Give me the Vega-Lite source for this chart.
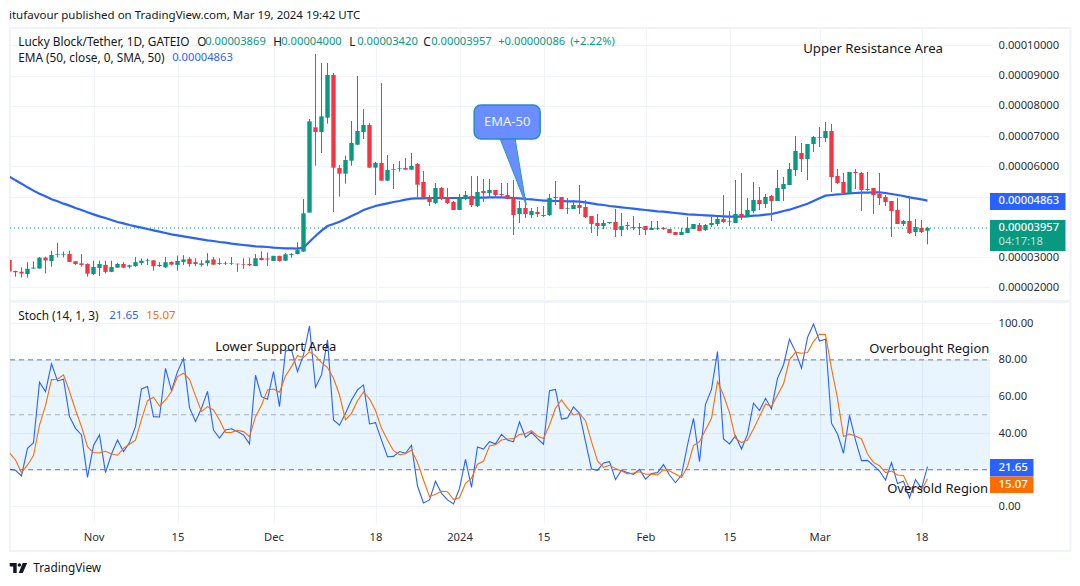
{
  "$schema": "https://vega.github.io/schema/vega-lite/v6.json",
  "background": "white",
  "padding": {"left": 9, "top": 9, "right": 0, "bottom": 0},
  "title": {"text": "itufavour published on TradingView.com, Mar 19, 2024 19:42 UTC", "anchor": "start", "font": "Noto Sans", "fontSize": 11.5, "fontWeight": "normal", "color": "#131722", "offset": 6},
  "config": {"view": {"stroke": null}, "text": {"font": "Noto Sans"}, "axis": {"labelFont": "Noto Sans", "labelFontSize": 11.2, "labelColor": "#2a2e39", "gridColor": "#f0f3fa", "domain": false, "ticks": false}},
  "datasets": {
    "bars": [
      {"date":"2023-10-18","o":2.90e-5,"h":2.90e-5,"l":2.52e-5,"c":2.52e-5,"ema":5.657e-5,"k":20.2,"d":29.3},
      {"date":"2023-10-19","o":2.54e-5,"h":2.55e-5,"l":2.35e-5,"c":2.50e-5,"ema":5.536e-5,"k":19.7,"d":25.3},
      {"date":"2023-10-20","o":2.51e-5,"h":2.66e-5,"l":2.32e-5,"c":2.46e-5,"ema":5.426e-5,"k":16.6,"d":18.4},
      {"date":"2023-10-21","o":2.44e-5,"h":2.83e-5,"l":2.32e-5,"c":2.61e-5,"ema":5.305e-5,"k":31.7,"d":22.6},
      {"date":"2023-10-22","o":2.62e-5,"h":2.85e-5,"l":2.61e-5,"c":2.65e-5,"ema":5.195e-5,"k":34.8,"d":27.7},
      {"date":"2023-10-23","o":2.62e-5,"h":3.00e-5,"l":2.62e-5,"c":2.98e-5,"ema":5.095e-5,"k":67.8,"d":44.4},
      {"date":"2023-10-24","o":2.98e-5,"h":3.01e-5,"l":2.46e-5,"c":2.89e-5,"ema":5.007e-5,"k":62.7,"d":55.0},
      {"date":"2023-10-25","o":2.87e-5,"h":3.21e-5,"l":2.68e-5,"c":3.07e-5,"ema":4.908e-5,"k":77.8,"d":69.2},
      {"date":"2023-10-26","o":3.07e-5,"h":3.47e-5,"l":2.99e-5,"c":3.09e-5,"ema":4.842e-5,"k":68.5,"d":69.4},
      {"date":"2023-10-27","o":3.07e-5,"h":3.18e-5,"l":2.99e-5,"c":3.09e-5,"ema":4.765e-5,"k":69.4,"d":71.8},
      {"date":"2023-10-28","o":3.10e-5,"h":3.21e-5,"l":2.84e-5,"c":2.84e-5,"ema":4.699e-5,"k":49.0,"d":62.7},
      {"date":"2023-10-29","o":2.86e-5,"h":2.86e-5,"l":2.74e-5,"c":2.77e-5,"ema":4.622e-5,"k":42.6,"d":52.6},
      {"date":"2023-10-30","o":2.79e-5,"h":3.10e-5,"l":2.68e-5,"c":2.74e-5,"ema":4.555e-5,"k":39.0,"d":43.5},
      {"date":"2023-10-31","o":2.77e-5,"h":2.79e-5,"l":2.35e-5,"c":2.45e-5,"ema":4.478e-5,"k":15.8,"d":32.6},
      {"date":"2023-11-01","o":2.44e-5,"h":2.88e-5,"l":2.41e-5,"c":2.67e-5,"ema":4.412e-5,"k":33.2,"d":29.3},
      {"date":"2023-11-02","o":2.64e-5,"h":2.88e-5,"l":2.37e-5,"c":2.77e-5,"ema":4.346e-5,"k":39.0,"d":29.3},
      {"date":"2023-11-03","o":2.74e-5,"h":2.88e-5,"l":2.46e-5,"c":2.51e-5,"ema":4.291e-5,"k":18.4,"d":30.1},
      {"date":"2023-11-04","o":2.51e-5,"h":2.88e-5,"l":2.50e-5,"c":2.67e-5,"ema":4.225e-5,"k":28.6,"d":28.6},
      {"date":"2023-11-05","o":2.65e-5,"h":2.81e-5,"l":2.64e-5,"c":2.77e-5,"ema":4.159e-5,"k":36.2,"d":27.9},
      {"date":"2023-11-06","o":2.77e-5,"h":2.83e-5,"l":2.64e-5,"c":2.65e-5,"ema":4.115e-5,"k":29.9,"d":31.7},
      {"date":"2023-11-07","o":2.68e-5,"h":2.75e-5,"l":2.62e-5,"c":2.73e-5,"ema":4.059e-5,"k":34.8,"d":33.9},
      {"date":"2023-11-08","o":2.70e-5,"h":3.00e-5,"l":2.68e-5,"c":2.83e-5,"ema":4.015e-5,"k":43.5,"d":36.1},
      {"date":"2023-11-09","o":2.80e-5,"h":2.95e-5,"l":2.74e-5,"c":2.88e-5,"ema":3.971e-5,"k":64.1,"d":47.5},
      {"date":"2023-11-10","o":2.88e-5,"h":2.95e-5,"l":2.74e-5,"c":2.90e-5,"ema":3.927e-5,"k":65.4,"d":57.7},
      {"date":"2023-11-11","o":2.89e-5,"h":2.90e-5,"l":2.55e-5,"c":2.70e-5,"ema":3.883e-5,"k":49.0,"d":59.6},
      {"date":"2023-11-12","o":2.70e-5,"h":2.83e-5,"l":2.67e-5,"c":2.74e-5,"ema":3.839e-5,"k":48.8,"d":54.8},
      {"date":"2023-11-13","o":2.66e-5,"h":3.00e-5,"l":2.64e-5,"c":2.83e-5,"ema":3.795e-5,"k":75.4,"d":58.1},
      {"date":"2023-11-14","o":2.84e-5,"h":2.85e-5,"l":2.72e-5,"c":2.75e-5,"ema":3.751e-5,"k":63.2,"d":62.7},
      {"date":"2023-11-15","o":2.74e-5,"h":3.05e-5,"l":2.55e-5,"c":2.87e-5,"ema":3.718e-5,"k":73.6,"d":70.9},
      {"date":"2023-11-16","o":2.84e-5,"h":3.06e-5,"l":2.74e-5,"c":2.92e-5,"ema":3.685e-5,"k":80.7,"d":72.7},
      {"date":"2023-11-17","o":2.94e-5,"h":3.00e-5,"l":2.68e-5,"c":2.77e-5,"ema":3.652e-5,"k":53.9,"d":69.4},
      {"date":"2023-11-18","o":2.83e-5,"h":2.96e-5,"l":2.70e-5,"c":2.77e-5,"ema":3.619e-5,"k":46.4,"d":60.3},
      {"date":"2023-11-19","o":2.74e-5,"h":2.90e-5,"l":2.68e-5,"c":2.79e-5,"ema":3.586e-5,"k":53.6,"d":51.7},
      {"date":"2023-11-20","o":2.80e-5,"h":3.13e-5,"l":2.70e-5,"c":2.89e-5,"ema":3.553e-5,"k":62.8,"d":54.5},
      {"date":"2023-11-21","o":2.92e-5,"h":3.00e-5,"l":2.74e-5,"c":2.75e-5,"ema":3.530e-5,"k":41.7,"d":52.6},
      {"date":"2023-11-22","o":2.80e-5,"h":2.96e-5,"l":2.74e-5,"c":2.77e-5,"ema":3.497e-5,"k":37.3,"d":47.2},
      {"date":"2023-11-23","o":2.78e-5,"h":2.85e-5,"l":2.74e-5,"c":2.80e-5,"ema":3.475e-5,"k":41.7,"d":40.3},
      {"date":"2023-11-24","o":2.78e-5,"h":3.00e-5,"l":2.74e-5,"c":2.80e-5,"ema":3.442e-5,"k":42.4,"d":40.4},
      {"date":"2023-11-25","o":2.78e-5,"h":2.78e-5,"l":2.51e-5,"c":2.76e-5,"ema":3.420e-5,"k":40.8,"d":41.5},
      {"date":"2023-11-26","o":2.77e-5,"h":2.96e-5,"l":2.61e-5,"c":2.75e-5,"ema":3.398e-5,"k":39.0,"d":40.8},
      {"date":"2023-11-27","o":2.77e-5,"h":2.98e-5,"l":2.70e-5,"c":2.73e-5,"ema":3.376e-5,"k":34.1,"d":38.1},
      {"date":"2023-11-28","o":2.70e-5,"h":3.10e-5,"l":2.70e-5,"c":2.96e-5,"ema":3.354e-5,"k":71.6,"d":49.0},
      {"date":"2023-11-29","o":2.97e-5,"h":3.19e-5,"l":2.89e-5,"c":2.90e-5,"ema":3.343e-5,"k":59.9,"d":55.2},
      {"date":"2023-11-30","o":2.95e-5,"h":3.15e-5,"l":2.70e-5,"c":2.92e-5,"ema":3.332e-5,"k":58.5,"d":63.6},
      {"date":"2023-12-01","o":2.87e-5,"h":3.04e-5,"l":2.87e-5,"c":3.04e-5,"ema":3.310e-5,"k":73.6,"d":64.1},
      {"date":"2023-12-02","o":3.04e-5,"h":3.04e-5,"l":2.85e-5,"c":2.87e-5,"ema":3.299e-5,"k":54.5,"d":62.3},
      {"date":"2023-12-03","o":2.88e-5,"h":3.13e-5,"l":2.87e-5,"c":3.09e-5,"ema":3.288e-5,"k":84.9,"d":71.2},
      {"date":"2023-12-04","o":3.07e-5,"h":3.13e-5,"l":2.98e-5,"c":3.10e-5,"ema":3.288e-5,"k":85.4,"d":76.3},
      {"date":"2023-12-05","o":3.10e-5,"h":3.49e-5,"l":3.09e-5,"c":3.23e-5,"ema":3.277e-5,"k":73.6,"d":82.3},
      {"date":"2023-12-06","o":3.18e-5,"h":4.92e-5,"l":3.17e-5,"c":4.445e-5,"ema":3.310e-5,"k":82.7,"d":81.2},
      {"date":"2023-12-07","o":4.47e-5,"h":7.564e-5,"l":4.47e-5,"c":7.486e-5,"ema":3.508e-5,"k":98.5,"d":84.5},
      {"date":"2023-12-08","o":7.288e-5,"h":9.713e-5,"l":6.021e-5,"c":7.134e-5,"ema":3.696e-5,"k":65.0,"d":82.2},
      {"date":"2023-12-09","o":7.134e-5,"h":9.415e-5,"l":6.44e-5,"c":7.652e-5,"ema":3.872e-5,"k":71.8,"d":78.5},
      {"date":"2023-12-10","o":7.608e-5,"h":9.415e-5,"l":7.41e-5,"c":9.018e-5,"ema":4.026e-5,"k":90.9,"d":75.8},
      {"date":"2023-12-11","o":9.018e-5,"h":9.084e-5,"l":4.489e-5,"c":5.955e-5,"ema":4.092e-5,"k":47.2,"d":69.9},
      {"date":"2023-12-12","o":5.944e-5,"h":6.043e-5,"l":4.996e-5,"c":5.756e-5,"ema":4.170e-5,"k":44.3,"d":60.8},
      {"date":"2023-12-13","o":5.756e-5,"h":6.352e-5,"l":5.426e-5,"c":6.208e-5,"ema":4.258e-5,"k":50.8,"d":47.2},
      {"date":"2023-12-14","o":6.186e-5,"h":7.497e-5,"l":6.02e-5,"c":6.77e-5,"ema":4.357e-5,"k":58.1,"d":50.8},
      {"date":"2023-12-15","o":6.715e-5,"h":8.985e-5,"l":6.70e-5,"c":7.167e-5,"ema":4.445e-5,"k":63.6,"d":57.7},
      {"date":"2023-12-16","o":7.134e-5,"h":7.894e-5,"l":6.902e-5,"c":7.365e-5,"ema":4.555e-5,"k":66.3,"d":62.5},
      {"date":"2023-12-17","o":7.365e-5,"h":7.431e-5,"l":5.955e-5,"c":5.955e-5,"ema":4.622e-5,"k":45.0,"d":58.7},
      {"date":"2023-12-18","o":5.955e-5,"h":6.142e-5,"l":5.051e-5,"c":6.109e-5,"ema":4.688e-5,"k":45.7,"d":52.3},
      {"date":"2023-12-19","o":6.109e-5,"h":8.754e-5,"l":5.525e-5,"c":5.525e-5,"ema":4.732e-5,"k":36.2,"d":42.6},
      {"date":"2023-12-20","o":5.525e-5,"h":6.374e-5,"l":5.525e-5,"c":5.878e-5,"ema":4.776e-5,"k":27.1,"d":36.2},
      {"date":"2023-12-21","o":5.889e-5,"h":6.076e-5,"l":5.25e-5,"c":5.911e-5,"ema":4.82e-5,"k":27.3,"d":30.4},
      {"date":"2023-12-22","o":5.922e-5,"h":6.175e-5,"l":5.823e-5,"c":5.944e-5,"ema":4.853e-5,"k":29.9,"d":28.2},
      {"date":"2023-12-23","o":5.944e-5,"h":6.274e-5,"l":5.878e-5,"c":5.889e-5,"ema":4.897e-5,"k":29.0,"d":28.8},
      {"date":"2023-12-24","o":5.889e-5,"h":6.44e-5,"l":5.878e-5,"c":6.01e-5,"ema":4.93e-5,"k":33.3,"d":30.8},
      {"date":"2023-12-25","o":6.076e-5,"h":6.109e-5,"l":4.974e-5,"c":5.393e-5,"ema":4.941e-5,"k":11.1,"d":24.0},
      {"date":"2023-12-26","o":5.481e-5,"h":5.844e-5,"l":4.952e-5,"c":4.952e-5,"ema":4.941e-5,"k":1.8,"d":14.4},
      {"date":"2023-12-27","o":4.985e-5,"h":5.051e-5,"l":4.688e-5,"c":4.82e-5,"ema":4.952e-5,"k":3.5,"d":5.3},
      {"date":"2023-12-28","o":4.787e-5,"h":5.448e-5,"l":4.754e-5,"c":5.283e-5,"ema":4.952e-5,"k":13.7,"d":6.6},
      {"date":"2023-12-29","o":5.283e-5,"h":5.316e-5,"l":4.886e-5,"c":4.919e-5,"ema":4.952e-5,"k":7.1,"d":8.2},
      {"date":"2023-12-30","o":4.985e-5,"h":5.283e-5,"l":4.754e-5,"c":4.787e-5,"ema":4.952e-5,"k":3.5,"d":8.0},
      {"date":"2023-12-31","o":4.82e-5,"h":4.853e-5,"l":4.555e-5,"c":4.555e-5,"ema":4.952e-5,"k":1.3,"d":3.8},
      {"date":"2024-01-01","o":4.555e-5,"h":5.084e-5,"l":4.555e-5,"c":4.952e-5,"ema":4.952e-5,"k":9.8,"d":4.7},
      {"date":"2024-01-02","o":4.919e-5,"h":5.183e-5,"l":4.886e-5,"c":5.051e-5,"ema":4.952e-5,"k":25.7,"d":12.6},
      {"date":"2024-01-03","o":5.018e-5,"h":5.679e-5,"l":4.655e-5,"c":4.721e-5,"ema":4.963e-5,"k":10.4,"d":15.3},
      {"date":"2024-01-04","o":4.688e-5,"h":5.679e-5,"l":4.655e-5,"c":5.15e-5,"ema":4.963e-5,"k":32.4,"d":23.0},
      {"date":"2024-01-05","o":5.183e-5,"h":5.58e-5,"l":4.82e-5,"c":5.117e-5,"ema":4.963e-5,"k":31.3,"d":24.6},
      {"date":"2024-01-06","o":5.117e-5,"h":5.58e-5,"l":4.952e-5,"c":5.217e-5,"ema":4.974e-5,"k":35.3,"d":33.0},
      {"date":"2024-01-07","o":5.217e-5,"h":5.217e-5,"l":4.952e-5,"c":5.051e-5,"ema":4.974e-5,"k":34.2,"d":33.7},
      {"date":"2024-01-08","o":5.084e-5,"h":5.448e-5,"l":4.952e-5,"c":5.051e-5,"ema":4.974e-5,"k":39.3,"d":36.2},
      {"date":"2024-01-09","o":5.051e-5,"h":5.448e-5,"l":4.919e-5,"c":4.919e-5,"ema":4.963e-5,"k":36.2,"d":36.8},
      {"date":"2024-01-10","o":4.952e-5,"h":5.547e-5,"l":3.729e-5,"c":4.39e-5,"ema":4.952e-5,"k":35.2,"d":37.0},
      {"date":"2024-01-11","o":4.423e-5,"h":4.853e-5,"l":4.126e-5,"c":4.622e-5,"ema":4.941e-5,"k":46.1,"d":39.2},
      {"date":"2024-01-12","o":4.622e-5,"h":4.985e-5,"l":4.291e-5,"c":4.423e-5,"ema":4.919e-5,"k":37.7,"d":39.7},
      {"date":"2024-01-13","o":4.39e-5,"h":4.622e-5,"l":4.291e-5,"c":4.522e-5,"ema":4.908e-5,"k":40.4,"d":41.3},
      {"date":"2024-01-14","o":4.489e-5,"h":4.655e-5,"l":4.324e-5,"c":4.423e-5,"ema":4.886e-5,"k":37.0,"d":38.4},
      {"date":"2024-01-15","o":4.39e-5,"h":4.688e-5,"l":4.324e-5,"c":4.357e-5,"ema":4.864e-5,"k":33.9,"d":37.0},
      {"date":"2024-01-16","o":4.39e-5,"h":5.084e-5,"l":4.357e-5,"c":4.952e-5,"ema":4.864e-5,"k":63.2,"d":44.4},
      {"date":"2024-01-17","o":4.952e-5,"h":5.514e-5,"l":4.721e-5,"c":4.985e-5,"ema":4.853e-5,"k":63.9,"d":53.6},
      {"date":"2024-01-18","o":4.985e-5,"h":4.985e-5,"l":4.589e-5,"c":4.589e-5,"ema":4.853e-5,"k":47.7,"d":58.1},
      {"date":"2024-01-19","o":4.6e-5,"h":4.952e-5,"l":4.423e-5,"c":4.622e-5,"ema":4.842e-5,"k":48.3,"d":53.6},
      {"date":"2024-01-20","o":4.589e-5,"h":4.886e-5,"l":4.589e-5,"c":4.721e-5,"ema":4.842e-5,"k":54.3,"d":49.9},
      {"date":"2024-01-21","o":4.721e-5,"h":5.382e-5,"l":4.423e-5,"c":4.622e-5,"ema":4.831e-5,"k":50.8,"d":50.8},
      {"date":"2024-01-22","o":4.655e-5,"h":4.886e-5,"l":4.291e-5,"c":4.324e-5,"ema":4.809e-5,"k":35.3,"d":46.8},
      {"date":"2024-01-23","o":4.357e-5,"h":4.357e-5,"l":3.795e-5,"c":4.093e-5,"ema":4.776e-5,"k":20.4,"d":35.3},
      {"date":"2024-01-24","o":4.126e-5,"h":4.423e-5,"l":3.696e-5,"c":4.027e-5,"ema":4.743e-5,"k":19.7,"d":24.8},
      {"date":"2024-01-25","o":4.027e-5,"h":4.225e-5,"l":3.927e-5,"c":4.126e-5,"ema":4.721e-5,"k":23.7,"d":21.3},
      {"date":"2024-01-26","o":4.126e-5,"h":4.159e-5,"l":4.093e-5,"c":4.159e-5,"ema":4.688e-5,"k":24.4,"d":22.4},
      {"date":"2024-01-27","o":4.159e-5,"h":4.589e-5,"l":3.663e-5,"c":3.894e-5,"ema":4.666e-5,"k":14.6,"d":20.6},
      {"date":"2024-01-28","o":3.894e-5,"h":4.456e-5,"l":3.696e-5,"c":4.027e-5,"ema":4.644e-5,"k":19.7,"d":19.3},
      {"date":"2024-01-29","o":4.06e-5,"h":4.159e-5,"l":3.894e-5,"c":4.027e-5,"ema":4.622e-5,"k":18.4,"d":17.7},
      {"date":"2024-01-30","o":3.96e-5,"h":4.357e-5,"l":3.894e-5,"c":3.993e-5,"ema":4.6e-5,"k":17.5,"d":18.2},
      {"date":"2024-01-31","o":3.96e-5,"h":4.126e-5,"l":3.729e-5,"c":3.993e-5,"ema":4.578e-5,"k":20.2,"d":18.9},
      {"date":"2024-02-01","o":4.027e-5,"h":4.027e-5,"l":3.729e-5,"c":3.894e-5,"ema":4.555e-5,"k":14.9,"d":17.5},
      {"date":"2024-02-02","o":3.894e-5,"h":4.192e-5,"l":3.894e-5,"c":3.96e-5,"ema":4.533e-5,"k":17.9,"d":17.7},
      {"date":"2024-02-03","o":3.938e-5,"h":4.192e-5,"l":3.894e-5,"c":3.96e-5,"ema":4.511e-5,"k":18.4,"d":17.1},
      {"date":"2024-02-04","o":3.96e-5,"h":3.993e-5,"l":3.894e-5,"c":3.927e-5,"ema":4.5e-5,"k":22.8,"d":19.9},
      {"date":"2024-02-05","o":3.927e-5,"h":3.927e-5,"l":3.795e-5,"c":3.795e-5,"ema":4.478e-5,"k":17.1,"d":19.3},
      {"date":"2024-02-06","o":3.828e-5,"h":3.828e-5,"l":3.729e-5,"c":3.729e-5,"ema":4.456e-5,"k":12.9,"d":17.7},
      {"date":"2024-02-07","o":3.729e-5,"h":3.96e-5,"l":3.729e-5,"c":3.828e-5,"ema":4.434e-5,"k":17.1,"d":15.7},
      {"date":"2024-02-08","o":3.795e-5,"h":4.324e-5,"l":3.795e-5,"c":3.96e-5,"ema":4.412e-5,"k":33.5,"d":21.7},
      {"date":"2024-02-09","o":3.927e-5,"h":4.093e-5,"l":3.927e-5,"c":4.093e-5,"ema":4.401e-5,"k":48.1,"d":33.2},
      {"date":"2024-02-10","o":4.06e-5,"h":4.126e-5,"l":3.861e-5,"c":3.861e-5,"ema":4.39e-5,"k":24.4,"d":35.3},
      {"date":"2024-02-11","o":3.894e-5,"h":4.093e-5,"l":3.861e-5,"c":4.06e-5,"ema":4.379e-5,"k":55.7,"d":41.7},
      {"date":"2024-02-12","o":4.06e-5,"h":4.324e-5,"l":3.993e-5,"c":4.126e-5,"ema":4.368e-5,"k":63.9,"d":48.1},
      {"date":"2024-02-13","o":4.093e-5,"h":4.324e-5,"l":4.027e-5,"c":4.258e-5,"ema":4.357e-5,"k":84.5,"d":68.1},
      {"date":"2024-02-14","o":4.258e-5,"h":5.051e-5,"l":4.126e-5,"c":4.159e-5,"ema":4.346e-5,"k":36.8,"d":60.8},
      {"date":"2024-02-15","o":4.192e-5,"h":4.522e-5,"l":4.027e-5,"c":4.17e-5,"ema":4.335e-5,"k":34.1,"d":51.2},
      {"date":"2024-02-16","o":4.126e-5,"h":5.547e-5,"l":4.126e-5,"c":4.423e-5,"ema":4.335e-5,"k":38.6,"d":37.2},
      {"date":"2024-02-17","o":4.423e-5,"h":5.778e-5,"l":4.225e-5,"c":4.324e-5,"ema":4.335e-5,"k":31.3,"d":34.8},
      {"date":"2024-02-18","o":4.324e-5,"h":4.952e-5,"l":4.324e-5,"c":4.555e-5,"ema":4.346e-5,"k":39.3,"d":36.2},
      {"date":"2024-02-19","o":4.522e-5,"h":5.481e-5,"l":4.456e-5,"c":4.886e-5,"ema":4.368e-5,"k":56.3,"d":42.3},
      {"date":"2024-02-20","o":4.886e-5,"h":5.316e-5,"l":4.555e-5,"c":4.754e-5,"ema":4.379e-5,"k":52.3,"d":49.0},
      {"date":"2024-02-21","o":4.754e-5,"h":5.084e-5,"l":4.621e-5,"c":4.985e-5,"ema":4.401e-5,"k":59.0,"d":55.9},
      {"date":"2024-02-22","o":5.018e-5,"h":5.051e-5,"l":4.192e-5,"c":4.853e-5,"ema":4.423e-5,"k":53.2,"d":54.5},
      {"date":"2024-02-23","o":4.853e-5,"h":5.878e-5,"l":4.853e-5,"c":5.283e-5,"ema":4.467e-5,"k":69.9,"d":60.8},
      {"date":"2024-02-24","o":5.25e-5,"h":5.646e-5,"l":4.853e-5,"c":5.415e-5,"ema":4.522e-5,"k":77.2,"d":66.8},
      {"date":"2024-02-25","o":5.382e-5,"h":6.109e-5,"l":5.382e-5,"c":5.911e-5,"ema":4.566e-5,"k":91.3,"d":80.0},
      {"date":"2024-02-26","o":5.878e-5,"h":7.002e-5,"l":5.679e-5,"c":6.506e-5,"ema":4.632e-5,"k":84.5,"d":84.2},
      {"date":"2024-02-27","o":6.44e-5,"h":6.77e-5,"l":5.811e-5,"c":6.241e-5,"ema":4.698e-5,"k":75.4,"d":83.6},
      {"date":"2024-02-28","o":6.241e-5,"h":6.737e-5,"l":5.547e-5,"c":6.737e-5,"ema":4.764e-5,"k":92.2,"d":84.0},
      {"date":"2024-02-29","o":6.737e-5,"h":7.002e-5,"l":6.473e-5,"c":6.969e-5,"ema":4.853e-5,"k":99.6,"d":90.0},
      {"date":"2024-03-01","o":6.946e-5,"h":7.299e-5,"l":6.638e-5,"c":6.969e-5,"ema":4.941e-5,"k":90.3,"d":94.0},
      {"date":"2024-03-02","o":6.936e-5,"h":7.464e-5,"l":6.803e-5,"c":7.167e-5,"ema":5.029e-5,"k":91.3,"d":93.8},
      {"date":"2024-03-03","o":7.167e-5,"h":7.398e-5,"l":5.15e-5,"c":5.646e-5,"ema":5.051e-5,"k":45.4,"d":75.4},
      {"date":"2024-03-04","o":5.679e-5,"h":5.911e-5,"l":5.415e-5,"c":5.448e-5,"ema":5.073e-5,"k":39.5,"d":59.0},
      {"date":"2024-03-05","o":5.481e-5,"h":5.778e-5,"l":5.051e-5,"c":5.117e-5,"ema":5.084e-5,"k":29.0,"d":38.1},
      {"date":"2024-03-06","o":5.117e-5,"h":5.811e-5,"l":5.117e-5,"c":5.811e-5,"ema":5.106e-5,"k":49.7,"d":39.5},
      {"date":"2024-03-07","o":5.811e-5,"h":5.911e-5,"l":5.25e-5,"c":5.778e-5,"ema":5.117e-5,"k":36.2,"d":38.4},
      {"date":"2024-03-08","o":5.778e-5,"h":5.811e-5,"l":4.522e-5,"c":5.217e-5,"ema":5.128e-5,"k":25.0,"d":36.8},
      {"date":"2024-03-09","o":5.217e-5,"h":5.811e-5,"l":5.184e-5,"c":5.25e-5,"ema":5.128e-5,"k":25.1,"d":28.6},
      {"date":"2024-03-10","o":5.283e-5,"h":5.283e-5,"l":4.423e-5,"c":5.051e-5,"ema":5.139e-5,"k":22.2,"d":24.0},
      {"date":"2024-03-11","o":5.084e-5,"h":5.778e-5,"l":4.721e-5,"c":4.952e-5,"ema":5.139e-5,"k":19.3,"d":22.2},
      {"date":"2024-03-12","o":4.985e-5,"h":5.051e-5,"l":4.688e-5,"c":4.82e-5,"ema":5.117e-5,"k":14.4,"d":18.4},
      {"date":"2024-03-13","o":4.853e-5,"h":4.853e-5,"l":3.663e-5,"c":4.522e-5,"ema":5.084e-5,"k":23.9,"d":19.3},
      {"date":"2024-03-14","o":4.555e-5,"h":4.952e-5,"l":4.093e-5,"c":4.093e-5,"ema":5.051e-5,"k":12.4,"d":17.1},
      {"date":"2024-03-15","o":4.093e-5,"h":4.225e-5,"l":4.027e-5,"c":4.192e-5,"ema":5.018e-5,"k":13.7,"d":16.8},
      {"date":"2024-03-16","o":4.192e-5,"h":5.018e-5,"l":3.762e-5,"c":3.795e-5,"ema":4.974e-5,"k":4.7,"d":9.8},
      {"date":"2024-03-17","o":3.828e-5,"h":4.258e-5,"l":3.696e-5,"c":3.993e-5,"ema":4.941e-5,"k":14.6,"d":10.7},
      {"date":"2024-03-18","o":3.96e-5,"h":4.225e-5,"l":3.795e-5,"c":3.828e-5,"ema":4.908e-5,"k":9.8,"d":8.9},
      {"date":"2024-03-19","o":3.869e-5,"h":4.0e-5,"l":3.42e-5,"c":3.957e-5,"ema":4.863e-5,"k":21.65,"d":15.07}
    ]
  },
  "vconcat": [
    {
      "width": 980,
      "height": 273,
      "encoding": {
        "x": {
          "field": "date",
          "type": "temporal",
          "title": null,
          "scale": {"type": "utc", "domain": ["2023-10-18T02:00:00Z", "2024-03-29T10:00:00Z"], "nice": false, "padding": 0},
          "axis": {
            "labels": false,
            "title": null,
            "values": [{"year":2023,"month":"nov","date":1,"utc":true},{"year":2023,"month":"nov","date":15,"utc":true},{"year":2023,"month":"dec","date":1,"utc":true},{"year":2023,"month":"dec","date":18,"utc":true},{"year":2024,"month":"jan","date":1,"utc":true},{"year":2024,"month":"jan","date":15,"utc":true},{"year":2024,"month":"feb","date":1,"utc":true},{"year":2024,"month":"feb","date":15,"utc":true},{"year":2024,"month":"mar","date":1,"utc":true},{"year":2024,"month":"mar","date":18,"utc":true}]
          }
        },
        "y": {
          "field": "price",
          "type": "quantitative",
          "title": null,
          "scale": {"domain": [1.547e-5, 1.0572e-4], "nice": false, "zero": false},
          "axis": {"title": null, "values": [2e-5,3e-5,4e-5,5e-5,6e-5,7e-5,8e-5,9e-5,1e-4], "orient": "right", "format": ".8f", "labelPadding": 8, "labelExpr": "abs(datum.value - 5e-5) < 1e-7 || abs(datum.value - 4e-5) < 1e-7 ? '' : datum.label"}
        }
      },
      "layer": [
        {
          "data": {"values": [{"date": "2023-10-18T02:00:00Z", "date2": "2024-04-11T20:00:00Z", "price": 1.0572e-4, "bottom": 1.547e-5}]},
          "mark": {"type": "rect", "fill": null, "stroke": "#f0f3fa", "strokeWidth": 2},
          "encoding": {"x2": {"field": "date2"}, "y2": {"field": "bottom"}}
        },
        {
          "data": {"name": "bars"},
          "mark": {"type": "line", "color": "#2962ff", "strokeWidth": 2.2, "clip": true},
          "encoding": {"y": {"field": "ema", "type": "quantitative", "title": null}}
        },
        {
          "data": {"values": [{"price": 3.957e-5}]},
          "mark": {"type": "rule", "color": "#089981", "strokeDash": [1, 3], "strokeWidth": 1},
          "encoding": {"x": {"value": 0}, "x2": {"value": 980}}
        },
        {
          "data": {"name": "bars"},
          "mark": {"type": "rule", "strokeWidth": 1, "clip": true},
          "encoding": {
            "y": {"field": "l", "type": "quantitative", "title": null},
            "y2": {"field": "h"},
            "color": {"condition": {"test": "datum.c >= datum.o", "value": "#089981"}, "value": "#f23645"}
          }
        },
        {
          "data": {"name": "bars"},
          "mark": {"type": "bar", "size": 4.4, "clip": true},
          "encoding": {
            "y": {"field": "o", "type": "quantitative", "title": null},
            "y2": {"field": "c"},
            "color": {"condition": {"test": "datum.c >= datum.o", "value": "#089981"}, "value": "#f23645"}
          }
        },
        {
          "data": {"values": [{"date": "2024-01-07T18:40:00Z", "price": 6.902e-5, "lower": 6.902e-5}, {"date": "2024-01-10T06:40:00Z", "price": 6.902e-5, "lower": 5.646e-5}, {"date": "2024-01-12T02:40:00Z", "price": 4.721e-5, "lower": 4.721e-5}]},
          "mark": {"type": "area", "color": "#6a8dff", "stroke": "#2a9bb5", "strokeWidth": 1},
          "encoding": {"y2": {"field": "lower"}}
        },
        {
          "data": {"values": [{"date": "2024-01-03T10:40:00Z", "date2": "2024-01-14T10:40:00Z", "price": 8.026e-5, "bottom": 6.902e-5}]},
          "mark": {"type": "rect", "color": "#6a8dff", "stroke": "#2a8cc0", "strokeWidth": 1.5, "cornerRadius": 7},
          "encoding": {"x2": {"field": "date2"}, "y2": {"field": "bottom"}}
        },
        {
          "data": {"values": [{"date": "2024-01-08T22:40:00Z", "price": 7.46e-5, "note": "EMA-50"}]},
          "mark": {"type": "text", "color": "#f0f3ff", "fontSize": 13},
          "encoding": {"text": {"field": "note"}}
        },
        {
          "data": {"values": [
            {"date": "2023-10-19T10:48:00Z", "price": 10.109e-5, "note": "Lucky Block/Tether, 1D, GATEIO"},
            {"date": "2023-11-18T06:43:00Z", "price": 10.109e-5, "note": "O"},
            {"date": "2023-11-30T22:48:00Z", "price": 10.109e-5, "note": "H"},
            {"date": "2023-12-13T14:53:00Z", "price": 10.109e-5, "note": "L"},
            {"date": "2023-12-25T22:48:00Z", "price": 10.109e-5, "note": "C"},
            {"date": "2023-10-19T10:48:00Z", "price": 9.58e-5, "note": "EMA (50, close, 0, SMA, 50)"}
          ]},
          "mark": {"type": "text", "align": "left", "color": "#131722", "fontSize": 11.8},
          "encoding": {"text": {"field": "note"}}
        },
        {
          "data": {"values": [
            {"date": "2023-11-19T14:53:00Z", "price": 10.109e-5, "note": "0.00003869"},
            {"date": "2023-12-02T06:43:00Z", "price": 10.109e-5, "note": "0.00004000"},
            {"date": "2023-12-14T22:48:00Z", "price": 10.109e-5, "note": "0.00003420"},
            {"date": "2023-12-27T06:43:00Z", "price": 10.109e-5, "note": "0.00003957"},
            {"date": "2024-01-07T10:48:00Z", "price": 10.109e-5, "note": "+0.00000086"},
            {"date": "2024-01-19T10:48:00Z", "price": 10.109e-5, "note": "(+2.22%)"}
          ]},
          "mark": {"type": "text", "align": "left", "color": "#089981", "fontSize": 11.2},
          "encoding": {"text": {"field": "note"}}
        },
        {
          "data": {"values": [{"date": "2023-11-14T02:53:00Z", "price": 9.58e-5, "note": "0.00004863"}]},
          "mark": {"type": "text", "align": "left", "color": "#2962ff", "fontSize": 11.2},
          "encoding": {"text": {"field": "note"}}
        },
        {
          "data": {"values": [{"date": "2024-02-27T06:43:00Z", "price": 9.878e-5, "note": "Upper Resistance Area"}]},
          "mark": {"type": "text", "align": "left", "color": "#131722", "fontSize": 13.2},
          "encoding": {"text": {"field": "note"}}
        },
        {
          "data": {"values": [{"date": "2024-03-29T10:00:00Z", "date2": "2024-04-11T00:00:00Z", "price": 5.117e-5, "bottom": 4.555e-5}]},
          "mark": {"type": "rect", "color": "#2962ff"},
          "encoding": {"x2": {"field": "date2"}, "y2": {"field": "bottom"}}
        },
        {
          "data": {"values": [{"date": "2024-03-29T10:00:00Z", "date2": "2024-04-11T00:00:00Z", "price": 4.225e-5, "bottom": 3.2e-5}]},
          "mark": {"type": "rect", "color": "#089981"},
          "encoding": {"x2": {"field": "date2"}, "y2": {"field": "bottom"}}
        },
        {
          "data": {"values": [
            {"date": "2024-03-30T20:00:00Z", "price": 4.853e-5, "note": "0.00004863"},
            {"date": "2024-03-30T20:00:00Z", "price": 3.96e-5, "note": "0.00003957"}
          ]},
          "mark": {"type": "text", "align": "left", "color": "white", "fontSize": 11.2, "fontWeight": 500},
          "encoding": {"text": {"field": "note"}}
        },
        {
          "data": {"values": [{"date": "2024-03-30T20:00:00Z", "price": 3.497e-5, "note": "04:17:18"}]},
          "mark": {"type": "text", "align": "left", "color": "#bfe3da", "fontSize": 11.2},
          "encoding": {"text": {"field": "note"}}
        }
      ]
    },
    {
      "width": 980,
      "height": 221,
      "encoding": {
        "x": {
          "field": "date",
          "type": "temporal",
          "title": null,
          "scale": {"type": "utc", "domain": ["2023-10-18T02:00:00Z", "2024-03-29T10:00:00Z"], "nice": false, "padding": 0},
          "axis": {
            "title": null,
            "labelPadding": 8,
            "labelAngle": 0,
            "labelExpr": "utcdate(datum.value) == 1 ? (utcmonth(datum.value) == 0 ? '2024' : utcFormat(datum.value, '%b')) : utcFormat(datum.value, '%-d')",
            "values": [{"year":2023,"month":"nov","date":1,"utc":true},{"year":2023,"month":"nov","date":15,"utc":true},{"year":2023,"month":"dec","date":1,"utc":true},{"year":2023,"month":"dec","date":18,"utc":true},{"year":2024,"month":"jan","date":1,"utc":true},{"year":2024,"month":"jan","date":15,"utc":true},{"year":2024,"month":"feb","date":1,"utc":true},{"year":2024,"month":"feb","date":15,"utc":true},{"year":2024,"month":"mar","date":1,"utc":true},{"year":2024,"month":"mar","date":18,"utc":true}]
          }
        },
        "y": {
          "field": "value",
          "type": "quantitative",
          "title": null,
          "scale": {"domain": [-9.1, 111.6], "nice": false, "zero": false},
          "axis": {"title": null, "values": [0,20,40,60,80,100], "orient": "right", "format": ".2f", "labelPadding": 8}
        }
      },
      "layer": [
        {
          "data": {"values": [{"date": "2023-10-18T02:00:00Z", "date2": "2024-04-11T20:00:00Z", "value": 111.6, "bottom": -24.4}]},
          "mark": {"type": "rect", "fill": null, "stroke": "#f0f3fa", "strokeWidth": 2},
          "encoding": {"x2": {"field": "date2"}, "y2": {"field": "bottom"}}
        },
        {
          "data": {"values": [{"value": 80, "bottom": 20}]},
          "mark": {"type": "rect", "color": "#2196f3", "opacity": 0.1},
          "encoding": {"x": {"value": 0}, "x2": {"value": 980}, "y2": {"field": "bottom"}}
        },
        {
          "data": {"values": [{"value": 80}, {"value": 20}]},
          "mark": {"type": "rule", "color": "#787b86", "strokeDash": [5, 4], "strokeWidth": 1},
          "encoding": {"x": {"value": 0}, "x2": {"value": 980}}
        },
        {
          "data": {"values": [{"value": 50}]},
          "mark": {"type": "rule", "color": "#787b86", "opacity": 0.55, "strokeDash": [5, 4], "strokeWidth": 1},
          "encoding": {"x": {"value": 0}, "x2": {"value": 980}}
        },
        {
          "data": {"name": "bars"},
          "mark": {"type": "line", "color": "#2962ff", "strokeWidth": 1.1, "clip": true},
          "encoding": {"y": {"field": "k", "type": "quantitative", "title": null}}
        },
        {
          "data": {"name": "bars"},
          "mark": {"type": "line", "color": "#ff6d00", "strokeWidth": 1.1, "clip": true},
          "encoding": {"y": {"field": "d", "type": "quantitative", "title": null}}
        },
        {
          "data": {"values": [
            {"date": "2023-10-19T10:48:00Z", "value": 104.0, "note": "Stoch (14, 1, 3)"},
            {"date": "2023-10-21T22:48:00Z", "value": -33.7, "note": "TradingView"}
          ]},
          "mark": {"type": "text", "align": "left", "color": "#131722", "fontSize": 11.8},
          "encoding": {"text": {"field": "note"}}
        },
        {
          "data": {"values": [{"date": "2023-11-03T14:53:00Z", "value": 104.0, "note": "21.65"}]},
          "mark": {"type": "text", "align": "left", "color": "#2962ff", "fontSize": 11.5},
          "encoding": {"text": {"field": "note"}}
        },
        {
          "data": {"values": [{"date": "2023-11-09T18:43:00Z", "value": 104.0, "note": "15.07"}]},
          "mark": {"type": "text", "align": "left", "color": "#ff6d00", "fontSize": 11.5},
          "encoding": {"text": {"field": "note"}}
        },
        {
          "data": {"values": [
            {"date": "2023-11-21T06:43:00Z", "value": 87.0, "note": "Lower Support Area"},
            {"date": "2024-03-09T06:43:00Z", "value": 86.0, "note": "Overbought Region"},
            {"date": "2024-03-12T06:43:00Z", "value": 9.5, "note": "Oversold Region"}
          ]},
          "mark": {"type": "text", "align": "left", "color": "#131722", "fontSize": 13},
          "encoding": {"text": {"field": "note"}}
        },
        {
          "data": {"values": [{"date": "2024-03-29T10:00:00Z", "date2": "2024-04-05T16:00:00Z", "value": 25.85, "bottom": 16.28}]},
          "mark": {"type": "rect", "color": "#2962ff"},
          "encoding": {"x2": {"field": "date2"}, "y2": {"field": "bottom"}}
        },
        {
          "data": {"values": [{"date": "2024-03-29T10:00:00Z", "date2": "2024-04-05T16:00:00Z", "value": 16.28, "bottom": 7.27}]},
          "mark": {"type": "rect", "color": "#ff6d00"},
          "encoding": {"x2": {"field": "date2"}, "y2": {"field": "bottom"}}
        },
        {
          "data": {"values": [
            {"date": "2024-03-30T20:00:00Z", "value": 20.9, "note": "21.65"},
            {"date": "2024-03-30T20:00:00Z", "value": 11.6, "note": "15.07"}
          ]},
          "mark": {"type": "text", "align": "left", "color": "white", "fontSize": 11.5, "fontWeight": 500},
          "encoding": {"text": {"field": "note"}}
        },
        {
          "data": {"values": [{"date": "2023-10-19T16:48:00Z", "value": -33.7}]},
          "mark": {"type": "point", "filled": true, "opacity": 1, "color": "#131722", "size": 400, "shape": "M-1,-0.5H-0.3V0.5H-0.65V-0.15H-1Z M0.3,0.5H-0.1L0.3,-0.5H0.75Z M-0.2,-0.3a0.17,0.17 0 1 0 0.34,0a0.17,0.17 0 1 0 -0.34,0Z"}
        }
      ]
    }
  ],
  "spacing": -2
}
